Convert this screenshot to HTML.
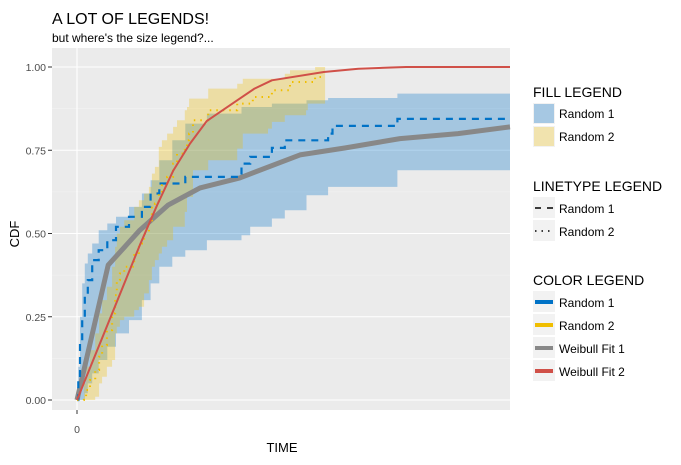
<!DOCTYPE html>
<html><head><meta charset="utf-8"><style>
body{margin:0;background:#fff;font-family:"Liberation Sans",Arial,sans-serif}
svg text{font-family:"Liberation Sans",Arial,sans-serif}
</style></head><body>
<svg id="c" width="681" height="460" xmlns="http://www.w3.org/2000/svg">
<rect x="0" y="0" width="681" height="460" fill="#fff"/>
<text x="52" y="24" font-size="16" fill="#000">A LOT OF LEGENDS!</text>
<text x="52" y="42" font-size="12" fill="#000">but where's the size legend?...</text>
<rect x="52" y="48" width="458" height="362" fill="#EBEBEB"/>
<g id="grid"></g>
<g id="marks"></g>
<g id="axes"></g>
<text x="282" y="452" font-size="13" text-anchor="middle" fill="#000">TIME</text>
<text transform="translate(19,234) rotate(-90)" font-size="13" text-anchor="middle" fill="#000">CDF</text>
<g>
<text x="533" y="97" font-size="14">FILL LEGEND</text>
<rect x="533" y="103" width="22" height="21" fill="#f2f2f2"/>
<rect x="534" y="104" width="20" height="19" fill="#a6c8e3"/>
<text x="559" y="118" font-size="12">Random 1</text>
<rect x="533" y="126" width="22" height="21" fill="#f2f2f2"/>
<rect x="534" y="127" width="20" height="19" fill="#f1e3ae"/>
<text x="559" y="141" font-size="12">Random 2</text>

<text x="533" y="191" font-size="14">LINETYPE LEGEND</text>
<rect x="533" y="197" width="22" height="21" fill="#f2f2f2"/>
<line x1="535" y1="208" x2="553" y2="208" stroke="#000" stroke-width="1.5" stroke-dasharray="6,6"/>
<text x="559" y="213" font-size="12">Random 1</text>
<rect x="533" y="220" width="22" height="21" fill="#f2f2f2"/>
<line x1="535" y1="231" x2="553" y2="231" stroke="#000" stroke-width="1.5" stroke-dasharray="1.5,5"/>
<text x="559" y="236" font-size="12">Random 2</text>

<text x="533" y="285" font-size="14">COLOR LEGEND</text>
<rect x="533" y="291" width="22" height="21" fill="#f2f2f2"/>
<rect x="535" y="300" width="18" height="4" fill="#0072C6"/>
<text x="559" y="307" font-size="12">Random 1</text>
<rect x="533" y="314" width="22" height="21" fill="#f2f2f2"/>
<rect x="535" y="323" width="18" height="4" fill="#F0BE00"/>
<text x="559" y="330" font-size="12">Random 2</text>
<rect x="533" y="337" width="22" height="21" fill="#f2f2f2"/>
<rect x="535" y="346" width="18" height="4" fill="#888888"/>
<text x="559" y="353" font-size="12">Weibull Fit 1</text>
<rect x="533" y="360" width="22" height="21" fill="#f2f2f2"/>
<rect x="535" y="369" width="18" height="4" fill="#D05048"/>
<text x="559" y="376" font-size="12">Weibull Fit 2</text>
</g>
</svg>
<script>
const yTicks=[0,0.25,0.5,0.75,1.0];
const yTickLabels=["0.00","0.25","0.50","0.75","1.00"];
const xTicks=[0];
const xTickLabels=["0"];
// Random 1 (KM step + band)
const r1Time=[0,0.3,0.7,1.2,1.8,2.5,3.5,5,7,9,12,15,17,19,22,25,30,38,40,45,48,53,58,59,74,100];
const r1Cdf=[0,.06,.17,.25,.31,.36,.42,.45,.48,.52,.55,.58,.62,.65,.65,.67,.67,.71,.73,.757,.78,.78,.80,.823,.844,.844];
const r1Lo=[0,0,0,0,.02,.05,.08,.12,.16,.2,.24,.30,.35,.40,.43,.45,.48,.495,.52,.545,.57,.615,.64,.64,.69,.69];
const r1Hi=[0,.10,.25,.35,.41,.44,.47,.51,.53,.55,.58,.62,.66,.72,.78,.83,.86,.88,.88,.89,.89,.90,.907,.907,.92,.92];
// Random 2
const r2Time=[0,1.6,2.1,3.0,4.2,5.1,5.8,6.9,8.1,8.8,9.2,9.9,10.9,13.2,14.3,15.5,16.6,17.3,18.0,18.9,19.6,20.8,22.2,23.1,24.9,25.4,25.9,26.8,30.3,37,38.3,40.6,44.1,45,48,49.2,52.9,53.3,55,56.6,57.3];
const r2Cdf=[0,.01,.03,.06,.09,.13,.165,.21,.26,.315,.36,.38,.40,.435,.47,.50,.535,.58,.59,.62,.645,.67,.71,.74,.76,.78,.80,.84,.87,.89,.89,.91,.91,.93,.93,.955,.955,.955,.97,.99,.99];
const r2Lo=[0,0,0,0,.01,.05,.07,.10,.12,.2,.22,.24,.25,.27,.28,.32,.36,.40,.42,.44,.46,.48,.52,.52,.565,.61,.61,.69,.72,.755,.80,.80,.815,.835,.855,.855,.87,.89,.89,.89,.89];
const r2Hi=[0,.05,.10,.15,.20,.26,.30,.34,.40,.46,.50,.52,.54,.58,.60,.62,.64,.68,.70,.76,.78,.80,.82,.84,.87,.88,.905,.905,.935,.95,.965,.965,.965,.965,.98,.99,.99,.99,1,1,1];
// Weibull fits
const w1Time=[0,7.2,14.5,21,28.4,37.6,51.5,62,74.6,88,100];
const w1Cdf=[0,.405,.51,.585,.637,.667,.736,.757,.785,.80,.82];
const w2Time=[0,14.5,18.5,22.2,26.1,30,37,41,45,57,65,76,100];
const w2Cdf=[0,.465,.585,.688,.77,.838,.90,.935,.96,.985,.995,1.0,1.0];

const NS='http://www.w3.org/2000/svg';
const X=t=>77+t*4.33, Y=v=>400-v*333;
function mk(tag,attrs,parent){const e=document.createElementNS(NS,tag);for(const k in attrs)e.setAttribute(k,attrs[k]);document.getElementById(parent).appendChild(e);return e;}
for(let i=0;i<yTicks.length;i++){
  const l=mk('line',{x1:52,x2:510,y1:Y(yTicks[i]),y2:Y(yTicks[i]),stroke:'#fff','stroke-width':1.1},'grid');
  
  
  if(i<yTicks.length-1){
    const m=mk('line',{x1:52,x2:510,y1:Y((yTicks[i]+yTicks[i+1])/2),y2:Y((yTicks[i]+yTicks[i+1])/2),stroke:'#f5f5f5','stroke-width':0.6},'grid');
    
    
  }
  const tk=mk('line',{x1:48,x2:52,y1:Y(yTicks[i]),y2:Y(yTicks[i]),stroke:'#333'},'axes');
  
  
  const tx=mk('text',{x:46,y:Y(yTicks[i])+4,'font-size':10.5,'text-anchor':'end',fill:'#4d4d4d'},'axes');
  tx.textContent=yTickLabels[i];
  
  
}
for(let i=0;i<xTicks.length;i++){
  const l=mk('line',{x1:X(xTicks[i]),x2:X(xTicks[i]),y1:48,y2:410,stroke:'#fff','stroke-width':1.1},'grid');
  
  
  const tk=mk('line',{x1:X(xTicks[i]),x2:X(xTicks[i]),y1:410,y2:414,stroke:'#333'},'axes');
  
  
  const tx=mk('text',{x:X(xTicks[i]),y:433,'font-size':10.5,'text-anchor':'middle',fill:'#4d4d4d'},'axes');
  tx.textContent=xTickLabels[i];
  
  
}
function stepPts(ts,vs){let p=[];for(let i=0;i<ts.length;i++){if(i>0)p.push([X(ts[i]),Y(vs[i-1])]);p.push([X(ts[i]),Y(vs[i])]);}return p;}
function ribbon(ts,lo,hi,endT){
  const tt=ts.concat([endT]);
  const up=stepPts(tt,hi.concat([hi[hi.length-1]]));
  const dn=stepPts(tt,lo.concat([lo[lo.length-1]])).reverse();
  return 'M'+up.concat(dn).map(p=>p[0].toFixed(1)+','+p[1].toFixed(1)).join('L')+'Z';
}
function line(pts){return 'M'+pts.map(p=>p[0].toFixed(1)+','+p[1].toFixed(1)).join('L');}
const b1=mk('path',{d:ribbon(r1Time,r1Lo,r1Hi,100),fill:'#0072C6','fill-opacity':0.3},'marks');


const b2=mk('path',{d:ribbon(r2Time,r2Lo,r2Hi,r2Time[r2Time.length-1]),fill:'#F0BE00','fill-opacity':0.3},'marks');


const g1=mk('path',{d:line(w1Time.map((t,i)=>[X(t),Y(w1Cdf[i])])),fill:'none',stroke:'#888','stroke-width':5,'stroke-linejoin':'round'},'marks');


const s1=mk('path',{d:line(stepPts(r1Time,r1Cdf)),fill:'none',stroke:'#0072C6','stroke-width':2.2,'stroke-dasharray':'7,6'},'marks');


const s2=mk('path',{d:line(stepPts(r2Time,r2Cdf)),fill:'none',stroke:'#F0BE00','stroke-width':2,'stroke-dasharray':'1.5,5'},'marks');


const g2=mk('path',{d:line(w2Time.map((t,i)=>[X(t),Y(w2Cdf[i])])),fill:'none',stroke:'#D05048','stroke-width':2,'stroke-linejoin':'round'},'marks');


</script>
</body></html>
